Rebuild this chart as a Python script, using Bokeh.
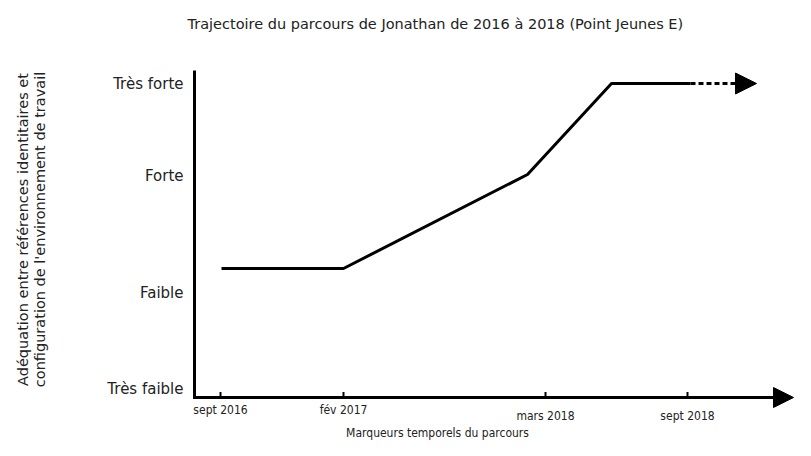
import numpy as np
from bokeh.plotting import figure
from bokeh.models import Arrow, NormalHead
from bokeh.core.properties import value
from bokeh.embed import file_html
from bokeh.resources import INLINE

# ---- texts ----
title_text = "Trajectoire du parcours de Jonathan de 2016 à 2018 (Point Jeunes E)"
y_title = "Adéquation entre références identitaires et\nconfiguration de l'environnement de travail"
x_title = "Marqueurs temporels du parcours"

# ---- y levels (tick labels) ----
level_labels = ["Très faible", "Faible", "Forte", "Très forte"]
level_pos = [0.9, 10.5, 22.2, 31.4]

# ---- time markers (x tick labels) ----
time_labels = ["sept 2016", "fév 2017", "mars 2018", "sept 2018"]
time_pos = [2.6, 14.9, 35.1, 49.3]
time_row = [0, 0, 1, 1]

# ---- trajectory ----
traj_x = [2.7, 14.9, 33.3, 41.7, 49.6]
traj_y = [12.9, 12.9, 22.3, 31.4, 31.4]

# ---- projected continuation ----
proj_x = [49.6, 56.2]
proj_y = [31.4, 31.4]

# ---- axes extent ----
x_axis_end = 59.9
y_axis_end = 32.7

FONT = "DejaVu Sans"
FONT_C = "DejaVu Sans Condensed"
INK = "#000000"
TXT = "#222222"

p = figure(width=795, height=440, x_range=(-19.4, 60.1), y_range=(-4.3, 35.5),
           x_axis_type=None, y_axis_type=None, min_border=0, min_border_top=42,
           toolbar_location=None, output_backend="svg", outline_line_color=None)
p.background_fill_color = "white"
p.border_fill_color = "white"

p.title.text = title_text
p.title.align = "left"
p.title.offset = 187
p.title.standoff = 21
p.title.text_font = FONT
p.title.text_font_size = "14.5px"
p.title.text_font_style = "normal"
p.title.text_color = TXT

# axes lines
p.line(x=[0, 0, x_axis_end - 1.0], y=[y_axis_end, 0, 0], line_width=3, line_color=INK,
       line_join="miter")
p.add_layout(Arrow(end=NormalHead(size=20, fill_color=INK, line_color=INK),
                   x_start=x_axis_end - 1.5, y_start=0, x_end=x_axis_end, y_end=0,
                   line_width=3, line_color=INK))

# ticks
p.segment(x0=time_pos, y0=[0] * len(time_pos), x1=time_pos, y1=[0.55] * len(time_pos),
          line_width=2, line_color=INK)

# x tick labels
p.text(x=time_pos, y=[-1.2 - 0.6 * r for r in time_row], text=time_labels,
       text_align="center", text_baseline="middle", text_font=value(FONT_C),
       text_font_size="12px", text_color=TXT)

# y tick labels
p.text(x=[-1.1] * len(level_pos), y=level_pos, text=level_labels,
       text_align="right", text_baseline="middle", text_font=value(FONT),
       text_font_size="15px", text_color=TXT)

# axis titles
p.text(x=[-16.3], y=[16.8], text=[y_title], angle=np.pi / 2,
       text_align="center", text_baseline="middle", text_font=value(FONT),
       text_font_size="14.5px", text_color=TXT, text_line_height=1.07)
p.text(x=[24.3], y=[-3.5], text=[x_title], text_align="center", text_baseline="middle",
       text_font=value(FONT_C), text_font_size="12px", text_color=TXT)

# trajectory
p.line(x=traj_x, y=traj_y, line_width=3, line_color=INK)

# projection
p.add_layout(Arrow(end=NormalHead(size=21, fill_color=INK, line_color=INK),
                   x_start=proj_x[0], y_start=proj_y[0], x_end=proj_x[1], y_end=proj_y[1],
                   line_width=3, line_color=INK, line_dash="5 3"))

open("out.html", "w").write(file_html(p, INLINE))
